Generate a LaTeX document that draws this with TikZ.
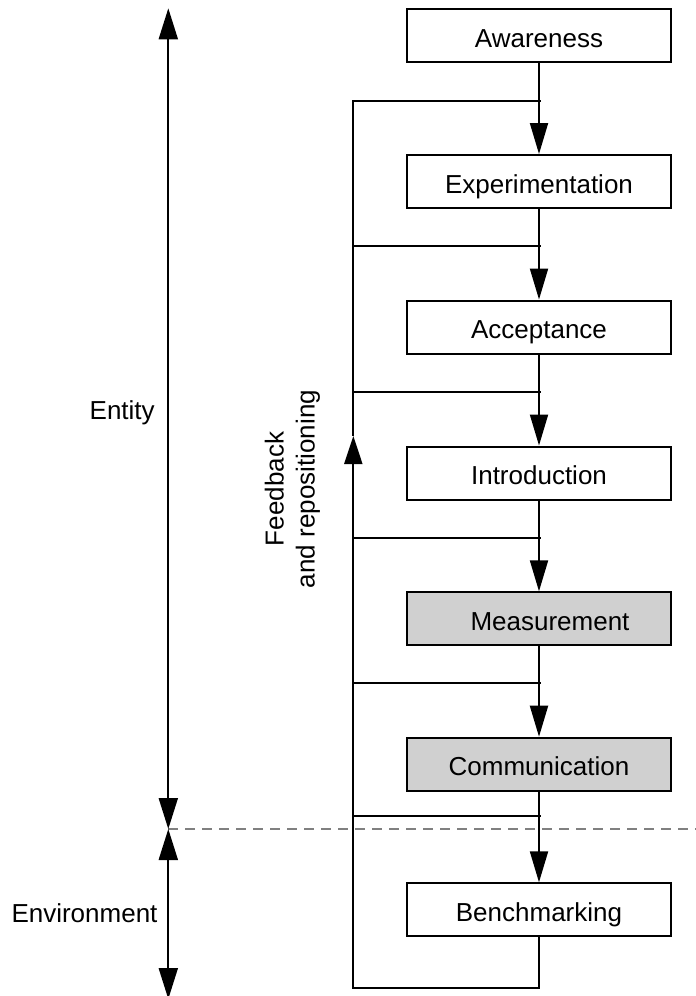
\documentclass[tikz,border=0pt]{standalone}
\usepackage{fontspec}
\setmainfont{Liberation Sans}
\usetikzlibrary{arrows.meta}
\definecolor{boxgray}{RGB}{208,208,208}
\definecolor{dashgray}{RGB}{128,128,128}
\begin{document}
\begin{tikzpicture}[x=1pt,y=-1pt,
  every node/.style={font=\fontsize{26}{31}\selectfont},
  stage/.style={draw, line width=2pt, minimum width=264pt, minimum height=53pt,
    inner sep=0pt, text height=23pt, text depth=0pt, fill=white},
  shaded/.style={stage, fill=boxgray},
  flow/.style={line width=2pt, -{Triangle[length=31pt,width=18pt]}},
  fb/.style={line width=2pt},
  fbarrow/.style={line width=2pt, -{Triangle[length=28pt,width=18pt]}},
  bound/.style={line width=2pt, {Triangle[length=31pt,width=19pt]}-{Triangle[length=31pt,width=19pt]}},
  divider/.style={draw=dashgray, line width=1.5pt, dash pattern=on 10pt off 7pt},
]
\useasboundingbox (0,0) rectangle (696,996);

% coordinates
\coordinate (eTop) at (168.3,8.3);
\coordinate (eMid) at (168.3,829);
\coordinate (eBot) at (168.3,999);
\coordinate (dEnd) at (696,829);

% divider
\draw[divider] (eMid) -- (dEnd);

% stages
\node[stage]  (aw) at (539,35.5)  {Awareness};
\node[stage]  (ex) at (539,181.5) {Experimentation};
\node[stage]  (ac) at (539,327)   {Acceptance};
\node[stage]  (in) at (539,473)   {Introduction};
\node[shaded] (me) at (539,618.8) {\hspace*{22pt}Measurement};
\node[shaded] (co) at (539,764.2) {Communication};
\node[stage]  (be) at (539,909.8) {Benchmarking};

% main flow
\draw[flow] (aw.south) -- (ex.north);
\draw[flow] (ex.south) -- (ac.north);
\draw[flow] (ac.south) -- (in.north);
\draw[flow] (in.south) -- (me.north);
\draw[flow] (me.south) -- (co.north);
\draw[flow] (co.south) -- (be.north);

% feedback loop coordinates
\coordinate (l1) at (353.3,100.7);  \coordinate (j1) at (540.5,100.7);
\coordinate (l2) at (353.3,246);    \coordinate (j2) at (540.5,246);
\coordinate (l3) at (353.3,392.3);  \coordinate (j3) at (540.5,392.3);
\coordinate (l4) at (353.3,537.7);  \coordinate (j4) at (540.5,537.7);
\coordinate (l5) at (353.3,683.3);  \coordinate (j5) at (540.5,683.3);
\coordinate (l6) at (353.3,815.7);  \coordinate (j6) at (540.5,815.7);
\coordinate (fbBot) at (353.3,988.3);
\coordinate (fbArrow) at (353.3,436);

\draw[fbarrow] (be.south) |- (fbBot) -- (fbArrow);
\draw[fb] (j1) -- (l1) -- (fbArrow);
\draw[fb] (l2) -- (j2);
\draw[fb] (l3) -- (j3);
\draw[fb] (l4) -- (j4);
\draw[fb] (l5) -- (j5);
\draw[fb] (l6) -- (j6);

% entity / environment bounds
\draw[bound] (eTop) -- (eMid);
\draw[bound] (eMid) -- (eBot);

% labels
\node[anchor=base] (entity) at (122.2,419) {Entity};
\node[anchor=base] (envir) at (84.5,922) {Environment};
\node[rotate=90, align=center, inner sep=0pt] (fbl) at (292.5,489) {Feedback\\and repositioning};
\end{tikzpicture}
\end{document}
